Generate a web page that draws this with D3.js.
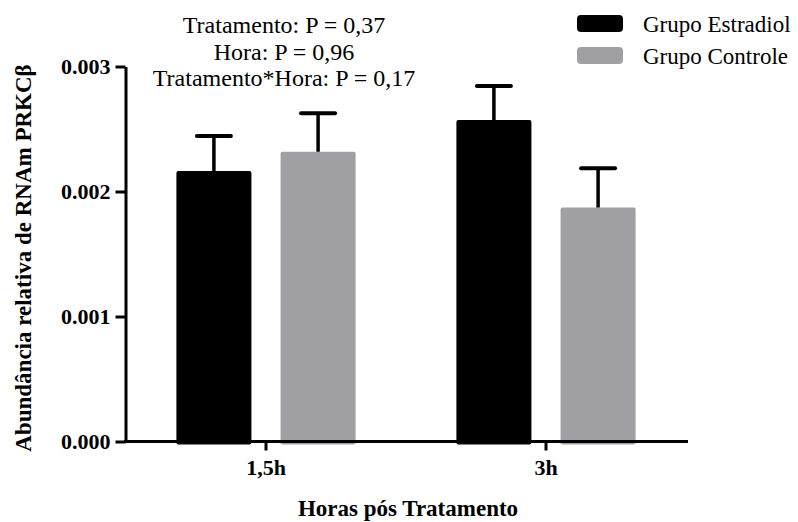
<!DOCTYPE html>
<html>
<head>
<meta charset="utf-8">
<script src="https://cdn.jsdelivr.net/npm/d3@7"></script>
<style>
  body { margin: 0; background: #fff; }
  text { font-family: "Liberation Serif", "Times New Roman", serif; }
</style>
</head>
<body>
<svg id="chart" width="798" height="522"></svg>
<script>
// data
var horas = ["1,5h", "3h"];
var grupos = ["Grupo Estradiol", "Grupo Controle"];
var estradiol = [0.002164, 0.002572];
var estradiolErro = [0.000280, 0.000272];
var controle = [0.002318, 0.001872];
var controleErro = [0.000308, 0.000314];
var yTicks = [0, 0.001, 0.002, 0.003];
var anotacoes = ["Tratamento: P = 0,37", "Hora: P = 0,96", "Tratamento*Hora: P = 0,17"];

var cores = ["#000000", "#a0a0a4"];

var svg = d3.select("#chart");

var x0 = d3.scaleBand()
    .domain(horas)
    .range([126, 686])
    .paddingInner(0.36)
    .paddingOuter(0.18);

var x1 = d3.scaleBand()
    .domain(grupos)
    .range([0, x0.bandwidth()])
    .paddingInner(0.28);

var y = d3.scaleLinear()
    .domain([0, 0.003])
    .range([441.5, 66.5]);

var linhas = [];
horas.forEach(function (h, i) {
    linhas.push({hora: h, grupo: grupos[0], v: estradiol[i], e: estradiolErro[i], cor: cores[0]});
    linhas.push({hora: h, grupo: grupos[1], v: controle[i], e: controleErro[i], cor: cores[1]});
});

// bars
svg.append("g")
    .selectAll("rect")
    .data(linhas)
    .join("rect")
    .attr("x", function (d) { return x0(d.hora) + x1(d.grupo); })
    .attr("y", function (d) { return y(d.v); })
    .attr("width", x1.bandwidth())
    .attr("height", function (d) { return y(0) - y(d.v) + 3; })
    .attr("rx", 2)
    .attr("fill", function (d) { return d.cor; });

// error bars (only upper side)
var erros = svg.append("g")
    .attr("stroke", "black")
    .selectAll("g")
    .data(linhas)
    .join("g")
    .attr("transform", function (d) {
        return "translate(" + (x0(d.hora) + x1(d.grupo) + x1.bandwidth() / 2) + ",0)";
    });

erros.append("line")
    .attr("y1", function (d) { return y(d.v); })
    .attr("y2", function (d) { return y(d.v + d.e); })
    .attr("stroke-width", 3.5);

erros.append("line")
    .attr("x1", -17)
    .attr("x2", 17)
    .attr("y1", function (d) { return y(d.v + d.e); })
    .attr("y2", function (d) { return y(d.v + d.e); })
    .attr("stroke-width", 4)
    .attr("stroke-linecap", "round");

// y axis
var yAxis = svg.append("g")
    .attr("transform", "translate(125.5,0)")
    .call(d3.axisLeft(y).tickValues(yTicks).tickFormat(d3.format(".3f")).tickSize(10).tickSizeOuter(0));

// x axis
var xAxis = svg.append("g")
    .attr("transform", "translate(0," + y(0) + ")")
    .call(d3.axisBottom(x0).tickSize(9).tickSizeOuter(0));

xAxis.select(".domain").attr("d", "M124,0H688");

[yAxis, xAxis].forEach(function (a) {
    a.select(".domain").attr("stroke-width", 3);
    a.selectAll(".tick line").attr("stroke-width", 3);
    a.selectAll("text")
        .attr("font-weight", "bold")
        .attr("font-size", 22)
        .attr("fill", "#000");
});
yAxis.selectAll("text").attr("x", -15);
xAxis.selectAll("text").attr("y", 18);

// axis titles
svg.append("text")
    .attr("transform", "translate(31,258) rotate(-90)")
    .attr("text-anchor", "middle")
    .attr("font-weight", "bold")
    .attr("font-size", 23)
    .text("Abundância relativa de RNAm PRKCβ");

svg.append("text")
    .attr("x", 408)
    .attr("y", 516)
    .attr("text-anchor", "middle")
    .attr("font-weight", "bold")
    .attr("font-size", 23)
    .text("Horas pós Tratamento");

// annotation
svg.append("g")
    .selectAll("text")
    .data(anotacoes)
    .join("text")
    .attr("x", 284)
    .attr("y", function (d, i) { return 33 + i * 26.5; })
    .attr("text-anchor", "middle")
    .attr("font-size", 24)
    .text(function (d) { return d; });

// legend
var legenda = svg.append("g")
    .selectAll("g")
    .data(grupos)
    .join("g")
    .attr("transform", function (d, i) { return "translate(577," + (15 + i * 32) + ")"; });

legenda.append("rect")
    .attr("width", 46)
    .attr("height", 17)
    .attr("rx", 4)
    .attr("fill", function (d, i) { return cores[i]; });

legenda.append("text")
    .attr("x", 66)
    .attr("y", 17)
    .attr("font-size", 23)
    .text(function (d) { return d; });
</script>
</body>
</html>
